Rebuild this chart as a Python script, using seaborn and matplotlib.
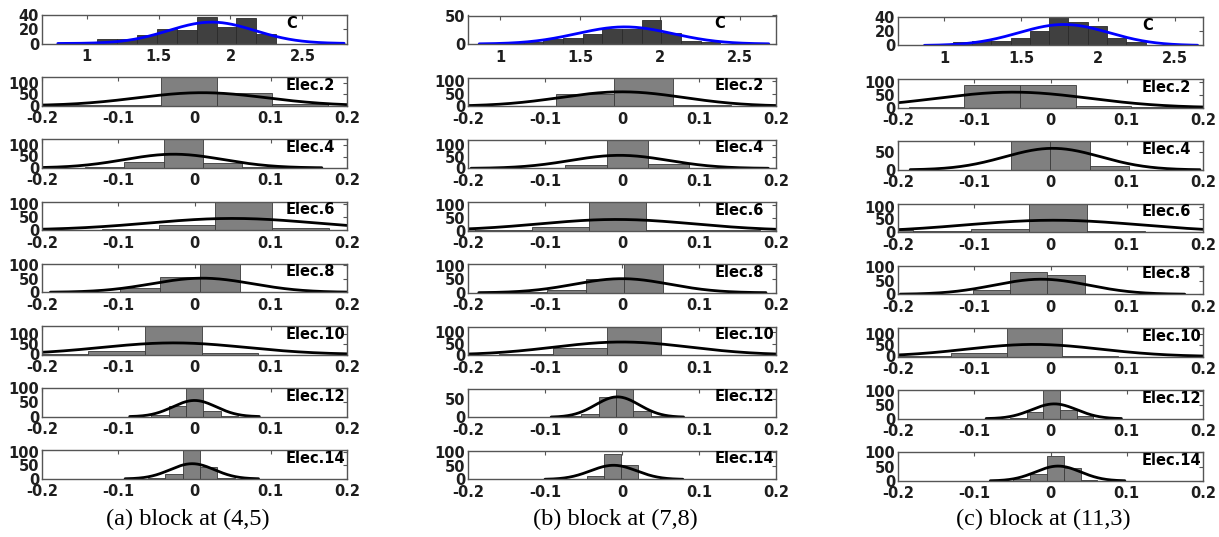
import numpy as np
import pandas as pd
import matplotlib
matplotlib.use("Agg")
import matplotlib.pyplot as plt
import seaborn as sns
from matplotlib.ticker import MultipleLocator, FuncFormatter

# ---------------------------------------------------------------- data
panel_labels = ["C", "Elec.2", "Elec.4", "Elec.6", "Elec.8", "Elec.10", "Elec.12", "Elec.14"]
captions = ["(a) block at (4,5)", "(b) block at (7,8)", "(c) block at (11,3)"]

# x/y range of the top "C" histogram in each block
ctop_xlim = [(0.69, 2.81), (0.80, 2.725), (0.70, 2.685)]
ctop_ymax = [40, 50, 40]
ctop_ystep = [20, 50, 20]

# block (4,5)
a_bin_start = [1.075, -0.19, -0.1436, -0.1213, -0.1497, -0.2135, -0.0567, -0.061]
a_bin_width = [0.138, 0.073, 0.0516, 0.0743, 0.0524, 0.0743, 0.0227, 0.0227]
a_counts = [
    [6, 6, 12, 21, 19, 37, 23, 36, 13],
    [2, 3, 125, 55, 6],
    [2, 25, 125, 20, 3],
    [3, 18, 110, 8],
    [2, 15, 58, 105],
    [1, 16, 140, 8],
    [5, 39, 100, 21, 4],
    [3, 18, 105, 44, 3],
]
a_fit_mu = [1.87, 0.01, -0.027, 0.05, 0.01, -0.027, 0.0, -0.003]
a_fit_sigma = [0.30, 0.085, 0.065, 0.11, 0.066, 0.095, 0.0285, 0.029]
a_fit_peak = [30, 57, 60, 45, 52, 57, 57, 56]
a_fit_span = [(0.80, 2.79), (-0.25, 0.27), (-0.222, 0.167), (-0.30, 0.40), (-0.189, 0.21),
              (-0.32, 0.27), (-0.085, 0.085), (-0.091, 0.084)]
a_ymax = [40, 125, 125, 110, 105, 140, 100, 105]

# block (7,8)
b_bin_start = [0.902, -0.1618, -0.1267, -0.2644, -0.1468, -0.1595, -0.0751, -0.0672]
b_bin_width = [0.1229, 0.0758, 0.0533, 0.074, 0.0499, 0.070, 0.0225, 0.0219]
b_counts = [
    [2, 2, 3, 8, 10, 18, 26, 26, 42, 20, 6, 4],
    [2, 50, 115, 5],
    [2, 14, 120, 19, 2],
    [8, 2, 15, 110, 3, 1],
    [2, 10, 52, 105],
    [3, 31, 125, 2],
    [2, 9, 57, 80, 18, 3],
    [2, 12, 90, 53, 3],
]
b_fit_mu = [1.78, 0.0, -0.003, -0.007, 0.0, 0.0, -0.006, -0.011]
b_fit_sigma = [0.30, 0.08, 0.064, 0.10, 0.062, 0.088, 0.0285, 0.030]
b_fit_peak = [30, 58, 55, 43, 52, 57, 57, 51]
b_fit_span = [(0.87, 2.68), (-0.25, 0.25), (-0.196, 0.19), (-0.30, 0.30), (-0.186, 0.187),
              (-0.27, 0.27), (-0.092, 0.08), (-0.10, 0.079)]
b_ymax = [50, 115, 120, 110, 105, 125, 80, 103]

# block (11,3)
c_bin_start = [0.8055, -0.1856, -0.1032, -0.2557, -0.1508, -0.2028, -0.053, -0.0486]
c_bin_width = [0.1255, 0.0728, 0.0515, 0.0759, 0.0489, 0.0728, 0.0218, 0.022]
c_counts = [
    [1, 2, 5, 7, 7, 10, 20, 40, 33, 28, 11, 5, 1],
    [2, 89, 88, 8, 2],
    [1, 78, 78, 11, 1],
    [8, 3, 13, 113, 3, 2],
    [2, 15, 81, 69, 1],
    [2, 16, 125, 3],
    [3, 25, 102, 31, 8],
    [8, 23, 86, 46, 3],
]
c_fit_mu = [1.78, -0.049, 0.003, 0.004, -0.012, -0.022, 0.005, 0.01]
c_fit_sigma = [0.295, 0.10, 0.063, 0.115, 0.062, 0.088, 0.0296, 0.0295]
c_fit_peak = [29.5, 60, 59, 47, 55, 53, 53, 52]
c_fit_span = [(0.872, 2.65), (-0.35, 0.25), (-0.184, 0.196), (-0.35, 0.35), (-0.197, 0.176),
              (-0.30, 0.30), (-0.0844, 0.093), (-0.079, 0.0975)]
c_ymax = [40, 110, 78, 113, 104, 125, 102, 100]

blocks = [
    (a_bin_start, a_bin_width, a_counts, a_fit_mu, a_fit_sigma, a_fit_peak, a_fit_span, a_ymax),
    (b_bin_start, b_bin_width, b_counts, b_fit_mu, b_fit_sigma, b_fit_peak, b_fit_span, b_ymax),
    (c_bin_start, c_bin_width, c_counts, c_fit_mu, c_fit_sigma, c_fit_peak, c_fit_span, c_ymax),
]

# ---------------------------------------------------------------- style
sns.set_theme(style="white")
plt.rcParams["font.family"] = ["DejaVu Sans"]
plt.rcParams["font.weight"] = "bold"

W, H = 1219, 537
fig = plt.figure(figsize=(W / 100, H / 100), dpi=100)

col_left = [42, 468, 898]
col_width = [305, 308, 305]
col_shift = [0.0, 0.5, 2.0]
row_top0, row_step, row_h = 15.0, 62.2, 28.5

frame_col = "#555555"
text_col = "#1e1e1e"


def tick_fmt(v, _pos):
    v = round(v, 6)
    if v == 0:
        return "0"
    return f"{v:g}"


for ci, (starts, widths, counts, mus, sigmas, peaks, spans, ymaxs) in enumerate(blocks):
    for ri in range(8):
        top = row_top0 + row_step * ri + col_shift[ci]
        ax = fig.add_axes([col_left[ci] / W, 1 - (top + row_h) / H,
                           col_width[ci] / W, row_h / H])

        cnt = [float(v) for v in counts[ri]]
        edges = [starts[ri] + widths[ri] * k for k in range(len(cnt) + 1)]
        centers = [0.5 * (edges[k] + edges[k + 1]) for k in range(len(cnt))]
        hist_df = pd.DataFrame({"value": centers, "count": cnt})

        is_c = ri == 0
        sns.histplot(data=hist_df, x="value", weights="count", bins=edges, ax=ax,
                     color="#404040" if is_c else "#808080", alpha=1.0,
                     edgecolor="#2a2a2a" if is_c else "#3a3a3a", linewidth=0.6)

        xs = np.linspace(spans[ri][0], spans[ri][1], 300)
        ys = peaks[ri] * np.exp(-0.5 * ((xs - mus[ri]) / sigmas[ri]) ** 2)
        sns.lineplot(x=xs, y=ys, ax=ax, color="#0000ff" if is_c else "black",
                     linewidth=2.0, sort=False)

        if is_c:
            ax.set_xlim(*ctop_xlim[ci])
            ax.set_ylim(0, ctop_ymax[ci])
            ax.xaxis.set_major_locator(MultipleLocator(0.5))
            ax.yaxis.set_major_locator(MultipleLocator(ctop_ystep[ci]))
        else:
            ax.set_xlim(-0.2, 0.2)
            ax.set_ylim(0, ymaxs[ri])
            ax.xaxis.set_major_locator(MultipleLocator(0.1))
            ax.yaxis.set_major_locator(MultipleLocator(50))
        ax.xaxis.set_major_formatter(FuncFormatter(tick_fmt))
        ax.yaxis.set_major_formatter(FuncFormatter(tick_fmt))

        ax.set_xlabel("")
        ax.set_ylabel("")
        ax.tick_params(direction="in", top=True, right=True, length=3, width=0.8,
                       color=frame_col, labelcolor=text_col, labelsize=10.5)
        ax.tick_params(axis="x", pad=4)
        ax.tick_params(axis="y", pad=2)
        for lbl in ax.get_xticklabels() + ax.get_yticklabels():
            lbl.set_fontweight("bold")
        for sp in ax.spines.values():
            sp.set_visible(True)
            sp.set_color(frame_col)
            sp.set_linewidth(1.0)

        ax.text(0.80, 0.98, panel_labels[ri], transform=ax.transAxes, ha="left",
                va="top", fontsize=10.5, fontweight="bold", color="black")

    cx = col_left[ci] + col_width[ci] / 2 - 7
    fig.text(cx / W, 1 - 519 / H, captions[ci], ha="center", va="center",
             fontsize=17.5, fontweight="normal", color="black",
             family=["Liberation Serif", "DejaVu Serif"])

fig.savefig("out.png", dpi=100)
